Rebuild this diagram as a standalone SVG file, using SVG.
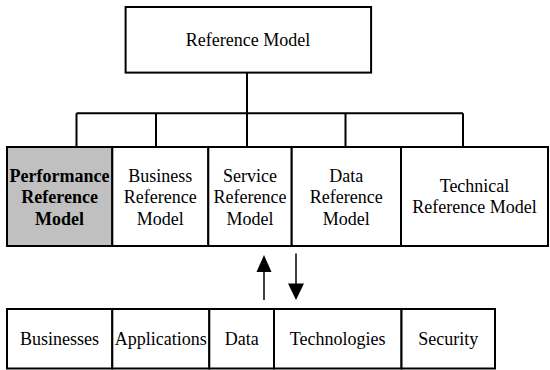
<svg xmlns="http://www.w3.org/2000/svg" width="550" height="370" viewBox="0 0 550 370">
  <style>
    .box { fill: #ffffff; stroke: #000000; stroke-width: 2; }
    .hi { fill: #c0c0c0; }
    .lbl { font-family: "Liberation Serif", "Times New Roman", serif; font-size: 18px; fill: #000000; text-anchor: middle; }
    .bold { font-weight: bold; }
    .wire { fill: none; stroke: #000000; stroke-width: 2; }
    .shaft { fill: none; stroke: #000000; stroke-width: 1.5; }
  </style>
  <defs>
    <marker id="head" viewBox="0 0 10 10" refX="10" refY="5" markerWidth="16" markerHeight="16" markerUnits="userSpaceOnUse" orient="auto">
      <path d="M0,0 L10,5 L0,10 Z" fill="#000000"/>
    </marker>
  </defs>

  <!-- tree connectors and data-flow arrows -->
  <g id="connectors">
    <path class="wire" d="M247,72.6 V113.3 M76.5,113.3 H463 M76.5,113.3 V147 M156,113.3 V147 M247,113.3 V147 M345.5,113.3 V147 M463,113.3 V147"/>
    <path class="shaft" d="M264,300 V272" />
    <polygon points="264,255 256.5,272 271.5,272" fill="#000000"/>
    <path class="shaft" d="M296,253.5 V284" />
    <polygon points="296,300 288,283.5 304,283.5" fill="#000000"/>
  </g>

  <g id="reference-model">
    <rect class="box" x="125.6" y="7" width="245.5" height="65.6"/>
    <text class="lbl" x="248" y="45.5">Reference Model</text>
  </g>

  <!-- reference model row -->
  <g id="prm">
    <rect class="box hi" x="7" y="147" width="105.3" height="99"/>
    <text class="lbl bold" x="59.6" y="181.5">Performance</text>
    <text class="lbl bold" x="59.6" y="203">Reference</text>
    <text class="lbl bold" x="59.6" y="224.5">Model</text>
  </g>
  <g id="brm">
    <rect class="box" x="112.3" y="147" width="96" height="99"/>
    <text class="lbl" x="160.3" y="181.5">Business</text>
    <text class="lbl" x="160.3" y="203">Reference</text>
    <text class="lbl" x="160.3" y="224.5">Model</text>
  </g>
  <g id="srm">
    <rect class="box" x="208.3" y="147" width="83.4" height="99"/>
    <text class="lbl" x="250" y="181.5">Service</text>
    <text class="lbl" x="250" y="203">Reference</text>
    <text class="lbl" x="250" y="224.5">Model</text>
  </g>
  <g id="drm">
    <rect class="box" x="291.7" y="147" width="109.3" height="99"/>
    <text class="lbl" x="346.3" y="181.5">Data</text>
    <text class="lbl" x="346.3" y="203">Reference</text>
    <text class="lbl" x="346.3" y="224.5">Model</text>
  </g>
  <g id="trm">
    <rect class="box" x="401" y="147" width="147" height="99"/>
    <text class="lbl" x="474.5" y="192">Technical</text>
    <text class="lbl" x="474.5" y="213">Reference Model</text>
  </g>

  <!-- bottom row -->
  <g id="businesses">
    <rect class="box" x="7" y="309" width="105.3" height="59.5"/>
    <text class="lbl" x="59.6" y="345">Businesses</text>
  </g>
  <g id="applications">
    <rect class="box" x="112.3" y="309" width="97" height="59.5"/>
    <text class="lbl" x="160.8" y="345">Applications</text>
  </g>
  <g id="data">
    <rect class="box" x="209.3" y="309" width="64.7" height="59.5"/>
    <text class="lbl" x="241.7" y="345">Data</text>
  </g>
  <g id="technologies">
    <rect class="box" x="274" y="309" width="127.5" height="59.5"/>
    <text class="lbl" x="337.7" y="345">Technologies</text>
  </g>
  <g id="security">
    <rect class="box" x="401.5" y="309" width="93.5" height="59.5"/>
    <text class="lbl" x="448.2" y="345">Security</text>
  </g>
</svg>
